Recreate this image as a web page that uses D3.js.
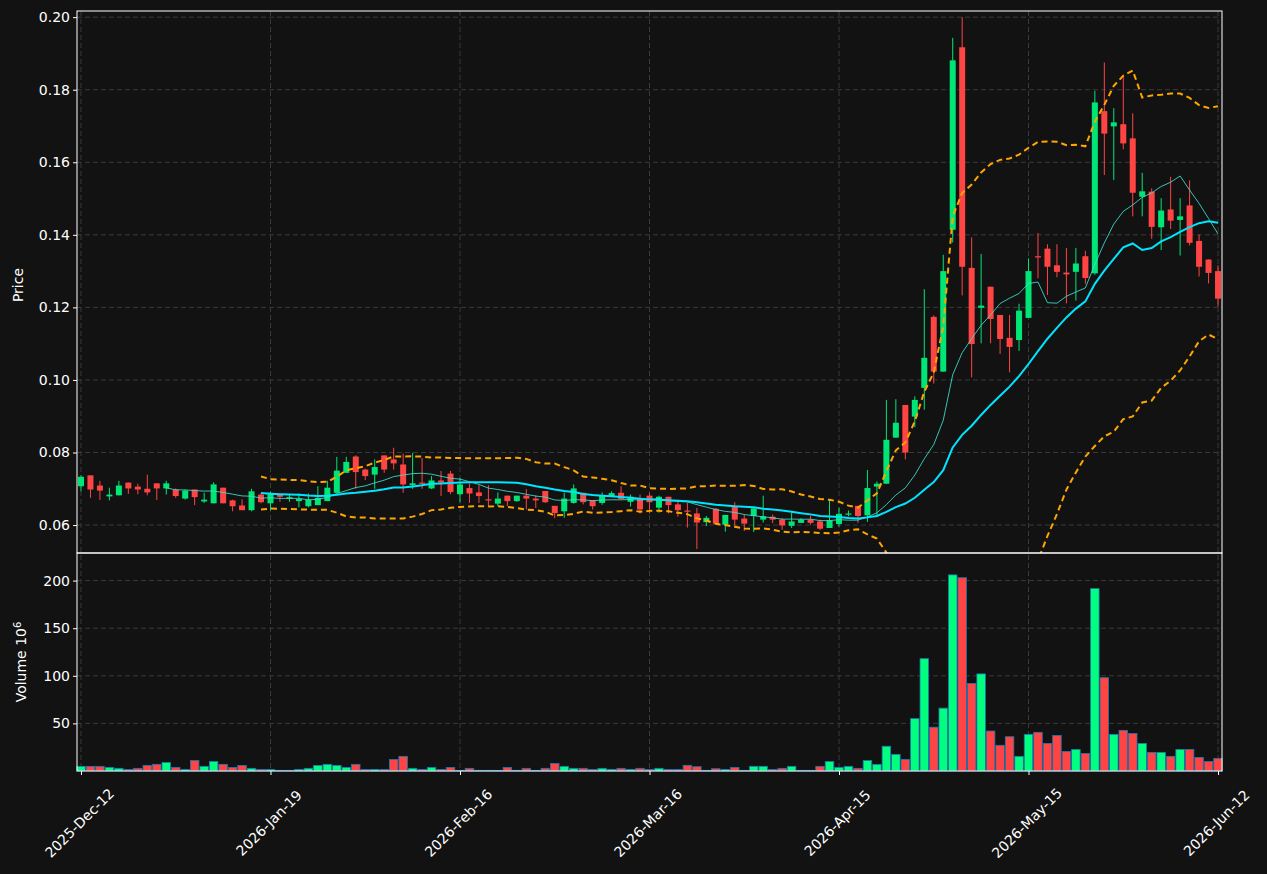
<!DOCTYPE html>
<html><head><meta charset="utf-8">
<script src="https://cdn.jsdelivr.net/npm/d3@7"></script>
<style>body{margin:0;background:#121212}svg{display:block}</style>
</head><body><svg id="c" width="1267" height="874"></svg>
<script>
const opens=[0.0707,0.0737,0.0709,0.0679,0.0682,0.0717,0.0706,0.0700,0.0715,0.0701,0.0698,0.0673,0.0698,0.0665,0.0660,0.0703,0.0668,0.0654,0.0641,0.0684,
0.0660,0.0684,0.0673,0.0666,0.0652,0.0655,0.0666,0.0689,0.0744,0.0789,0.0753,0.0739,0.0792,0.0781,0.0767,0.0710,0.0717,0.0701,0.0723,0.0742,
0.0685,0.0702,0.0690,0.0671,0.0659,0.0681,0.0666,0.0681,0.0673,0.0694,0.0653,0.0638,0.0661,0.0689,0.0669,0.0661,0.0679,0.0689,0.0664,0.0672,
0.0681,0.0648,0.0678,0.0657,0.0640,0.0632,0.0608,0.0645,0.0601,0.0650,0.0618,0.0625,0.0615,0.0623,0.0615,0.0598,0.0606,0.0615,0.0610,0.0592,
0.0603,0.0629,0.0653,0.0627,0.0706,0.0714,0.0841,0.0931,0.0899,0.0978,0.1174,0.1023,0.1414,0.1917,0.1309,0.1199,0.1257,0.1179,0.1116,0.1110,
0.1171,0.1341,0.1362,0.1316,0.1296,0.1298,0.1341,0.1294,0.1741,0.1699,0.1705,0.1666,0.1505,0.1519,0.1421,0.1470,0.1441,0.1481,0.1383,0.1332,0.1300];
const highs=[0.0737,0.0737,0.0722,0.0703,0.0722,0.0717,0.0714,0.0739,0.0715,0.0722,0.0701,0.0698,0.0698,0.0689,0.0718,0.0703,0.0670,0.0671,0.0700,0.0688,
0.0692,0.0684,0.0683,0.0687,0.0687,0.0707,0.0722,0.0788,0.0788,0.0792,0.0756,0.0781,0.0792,0.0813,0.0797,0.0799,0.0785,0.0735,0.0749,0.0749,
0.0730,0.0715,0.0710,0.0710,0.0690,0.0681,0.0681,0.0699,0.0682,0.0694,0.0653,0.0689,0.0712,0.0689,0.0669,0.0690,0.0693,0.0707,0.0684,0.0684,
0.0689,0.0681,0.0678,0.0670,0.0661,0.0647,0.0625,0.0647,0.0628,0.0663,0.0629,0.0646,0.0681,0.0629,0.0619,0.0634,0.0619,0.0626,0.0615,0.0669,
0.0648,0.0640,0.0653,0.0752,0.0720,0.0945,0.0947,0.0931,0.0955,0.1250,0.1178,0.1345,0.1943,0.2000,0.1393,0.1347,0.1257,0.1179,0.1179,0.1210,
0.1335,0.1405,0.1374,0.1374,0.1364,0.1364,0.1356,0.1797,0.1875,0.1749,0.1840,0.1735,0.1571,0.1528,0.1501,0.1560,0.1501,0.1550,0.1401,0.1332,0.1316];
const lows=[0.0693,0.0675,0.0669,0.0668,0.0682,0.0686,0.0685,0.0682,0.0669,0.0684,0.0675,0.0670,0.0655,0.0661,0.0660,0.0660,0.0638,0.0641,0.0638,0.0660,
0.0640,0.0664,0.0664,0.0649,0.0649,0.0655,0.0666,0.0689,0.0744,0.0700,0.0724,0.0700,0.0744,0.0753,0.0689,0.0700,0.0700,0.0699,0.0680,0.0685,
0.0663,0.0661,0.0661,0.0652,0.0652,0.0652,0.0664,0.0643,0.0647,0.0661,0.0619,0.0620,0.0659,0.0657,0.0643,0.0656,0.0677,0.0670,0.0651,0.0632,
0.0632,0.0634,0.0632,0.0623,0.0593,0.0534,0.0597,0.0604,0.0582,0.0598,0.0584,0.0581,0.0607,0.0605,0.0587,0.0592,0.0606,0.0601,0.0586,0.0592,
0.0596,0.0624,0.0606,0.0609,0.0624,0.0714,0.0841,0.0781,0.0870,0.0918,0.0990,0.1023,0.1379,0.1233,0.1007,0.1101,0.1101,0.1072,0.1021,0.1080,
0.1171,0.1280,0.1234,0.1283,0.1211,0.1219,0.1265,0.1290,0.1565,0.1551,0.1636,0.1451,0.1451,0.1389,0.1358,0.1416,0.1343,0.1371,0.1285,0.1266,0.1202];
const closes=[0.0733,0.0698,0.0695,0.0684,0.0709,0.0701,0.0698,0.0690,0.0701,0.0715,0.0680,0.0695,0.0677,0.0670,0.0712,0.0660,0.0652,0.0641,0.0693,0.0663,
0.0689,0.0678,0.0677,0.0672,0.0670,0.0675,0.0703,0.0750,0.0774,0.0746,0.0735,0.0760,0.0753,0.0770,0.0712,0.0715,0.0714,0.0723,0.0717,0.0691,
0.0712,0.0687,0.0680,0.0668,0.0673,0.0666,0.0681,0.0673,0.0668,0.0663,0.0633,0.0673,0.0701,0.0663,0.0652,0.0683,0.0688,0.0672,0.0678,0.0643,
0.0663,0.0678,0.0655,0.0641,0.0638,0.0607,0.0620,0.0604,0.0628,0.0615,0.0604,0.0646,0.0624,0.0615,0.0599,0.0610,0.0615,0.0606,0.0590,0.0613,
0.0631,0.0632,0.0625,0.0702,0.0714,0.0835,0.0882,0.0800,0.0945,0.1061,0.1023,0.1300,0.1881,0.1312,0.1099,0.1205,0.1168,0.1113,0.1091,0.1191,
0.1300,0.1339,0.1312,0.1298,0.1291,0.1321,0.1281,0.1765,0.1679,0.1710,0.1652,0.1516,0.1520,0.1422,0.1467,0.1439,0.1451,0.1378,0.1312,0.1295,0.1224];
const volumes=[4.9,4.9,4.9,3.8,2.8,1.7,2.8,5.9,7,9,3.8,1.7,11,4.9,10,7,3.8,5.9,2.8,1.7,
1.7,0.7,0.7,1.7,2.8,5.9,7,5.9,3.8,7,1.7,1.7,1.7,12,15.4,2.8,1.7,3.8,1.7,3.8,
0.7,2.8,0.7,0.7,0.7,3.8,0.7,2.8,0.7,2.8,8,4.9,2.8,2.8,1.7,2.8,1.7,2.8,1.7,2.8,
1.7,2.8,1.7,1.7,6,4.5,0.7,2.4,1.7,3.8,0.7,4.9,4.9,1.7,2.8,4.9,0.7,0.7,4.9,10,
3.8,4.9,2.8,11,7,26,17.5,12.2,55,118,46,66,206,203,92,102,42,27,36,15.4,
38.5,40.6,29,37.4,20.6,22.7,18.5,191.6,98,38.5,42.7,39.5,29,19.6,19.6,15.4,22.7,22.7,14.3,10,13.3];
const tickIdx=[0,20,40,60,80,100,120];
const tickLabels=["2025-Dec-12","2026-Jan-19","2026-Feb-16","2026-Mar-16","2026-Apr-15","2026-May-15","2026-Jun-12"];
const priceTicks=[0.06,0.08,0.10,0.12,0.14,0.16,0.18,0.20];
const volTicks=[50,100,150,200];

const svg=d3.select("#c");
svg.append("rect").attr("width",1267).attr("height",874).attr("fill","#121212");
const L=77,R=1222,T1=11,B1=553,T2=553,B2=771;
const n=closes.length;
const x=d3.scaleLinear().domain([-0.42,n-1+0.42]).range([L,R]);
const y=d3.scaleLinear().domain([0.0523,0.2017]).range([B1,T1]);
const yv=d3.scaleLinear().domain([0,229]).range([B2,T2]);
const green="#00e676",red="#ff4444";
const col=i=>closes[i]>=opens[i]?green:red;
const defs=svg.append("defs");
defs.append("clipPath").attr("id","cp1").append("rect").attr("x",L).attr("y",T1).attr("width",R-L).attr("height",B1-T1);
const grid="#3a3a3a";
const g1=svg.append("g");
g1.selectAll("line.h").data(priceTicks).join("line").attr("x1",L).attr("x2",R).attr("y1",d=>y(d)).attr("y2",d=>y(d)).attr("stroke",grid).attr("stroke-dasharray","5,3");
g1.selectAll("line.hv").data(volTicks).join("line").attr("x1",L).attr("x2",R).attr("y1",d=>yv(d)).attr("y2",d=>yv(d)).attr("stroke",grid).attr("stroke-dasharray","5,3");
g1.selectAll("line.v").data(tickIdx).join("line").attr("x1",d=>x(d)).attr("x2",d=>x(d)).attr("y1",T1).attr("y2",B2).attr("stroke",grid).attr("stroke-dasharray","5,3");
function ma(p){return closes.map((c,i)=>i<p-1?null:d3.mean(closes.slice(i-p+1,i+1)));}
const ma10=ma(10),ma20=ma(20);
const sd=closes.map((c,i)=>i<19?null:d3.deviation(closes.slice(i-19,i+1)));
const up=ma20.map((m,i)=>m==null?null:m+2*sd[i]),lo=ma20.map((m,i)=>m==null?null:m-2*sd[i]);
const line=d3.line().defined(d=>d!=null).x((d,i)=>x(i)).y(d=>y(d));
const pg=svg.append("g").attr("clip-path","url(#cp1)");
const cg=pg.append("g");
closes.forEach((c,i)=>{
  cg.append("line").attr("x1",x(i)).attr("x2",x(i)).attr("y1",y(highs[i])).attr("y2",y(lows[i])).attr("stroke",col(i)).attr("stroke-width",1);
  const t=y(Math.max(opens[i],c)),b=y(Math.min(opens[i],c));
  cg.append("rect").attr("x",x(i)-3).attr("width",6).attr("y",t).attr("height",Math.max(1.2,b-t)).attr("fill",col(i));
});
pg.append("path").attr("d",line(up)).attr("fill","none").attr("stroke","#ffa500").attr("stroke-width",2).attr("stroke-dasharray","6,4");
pg.append("path").attr("d",line(lo)).attr("fill","none").attr("stroke","#ffa500").attr("stroke-width",2).attr("stroke-dasharray","6,4");
pg.append("path").attr("d",line(ma10)).attr("fill","none").attr("stroke","#40e0d0").attr("stroke-width",1).attr("opacity",0.85);
pg.append("path").attr("d",line(ma20)).attr("fill","none").attr("stroke","#00e5ff").attr("stroke-width",2);
const bw=x(1)-x(0);
svg.append("g").selectAll("rect").data(volumes).join("rect")
 .attr("x",(d,i)=>x(i)-bw*0.45).attr("width",bw*0.9).attr("y",d=>yv(d)).attr("height",d=>B2-yv(d))
 .attr("fill",(d,i)=>closes[i]>=opens[i]?"#00ff7f":"#ff4444").attr("stroke","#1f77b4").attr("stroke-width",0.8);
svg.append("rect").attr("x",L).attr("y",T1).attr("width",R-L).attr("height",B1-T1).attr("fill","none").attr("stroke","#fff");
svg.append("rect").attr("x",L).attr("y",T2).attr("width",R-L).attr("height",B2-T2).attr("fill","none").attr("stroke","#fff");
const fnt="DejaVu Sans, sans-serif";
const ay=svg.append("g").attr("transform",`translate(${L},0)`).call(d3.axisLeft(y).tickValues(priceTicks).tickFormat(d3.format(".2f")).tickSize(4));
const av=svg.append("g").attr("transform",`translate(${L},0)`).call(d3.axisLeft(yv).tickValues(volTicks).tickSize(4));
const ax=svg.append("g").attr("transform",`translate(0,${B2})`).call(d3.axisBottom(x).tickValues(tickIdx).tickFormat((d,i)=>tickLabels[i]).tickSize(4));
[ay,av,ax].forEach(a=>{a.select(".domain").remove();a.selectAll("line").attr("stroke","#fff");a.selectAll("text").attr("fill","#fff").attr("font-family",fnt).attr("font-size",14);});
ax.selectAll("text").attr("text-anchor","middle").attr("y",0).attr("dy","0.35em").attr("transform","translate(-2,52) rotate(-45)");
svg.append("text").attr("transform","translate(23,285) rotate(-90)").attr("text-anchor","middle").attr("fill","#fff").attr("font-family",fnt).attr("font-size",14).text("Price");
const vt=svg.append("text").attr("transform","translate(26,662) rotate(-90)").attr("text-anchor","middle").attr("fill","#fff").attr("font-family",fnt).attr("font-size",14);
vt.append("tspan").text("Volume  10");
vt.append("tspan").attr("dy","-0.5em").attr("font-size",10).text("6");
</script></body></html>
